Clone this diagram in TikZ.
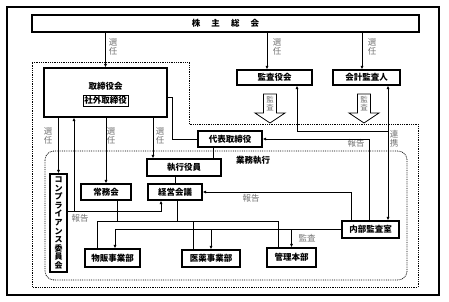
\documentclass[tikz,border=0pt]{standalone}
\usepackage{fontspec}
\setmainfont{Noto Sans CJK JP}
\usetikzlibrary{arrows.meta}

\begin{document}
\begin{tikzpicture}[
    x=1pt, y=-1pt,
    box/.style={
        rectangle,
        draw,
        line width=1.1pt,
        inner sep=0pt,
        align=center,
        font=\fontsize{8.5}{10}\selectfont\bfseries,
    },
    lbl/.style={text=black!55, inner sep=0pt, align=center, font=\fontsize{8.5}{9.5}\selectfont},
    region/.style={densely dotted, line width=0.8pt},
    >={Latex[length=3.5pt,width=3pt]}, line width=0.9pt
]
\useasboundingbox (0,0) rectangle (449,302);

% frame and regions
\draw[line width=1.2pt] (7,7) rectangle (439,295);
\draw[region] (32,62) -- (189,62) -- (189,124) -- (418,124) -- (418,287) -- (32,287) -- cycle;
\draw[region, rounded corners=9pt] (45,151) rectangle (407,280);

% boxes
\node[box, minimum width=387pt, minimum height=17pt] (kabu) at (225.5,23.5) {株\hspace{1.3em}主\hspace{1.3em}総\hspace{1.3em}会};
\node[box, minimum width=123pt, minimum height=49pt] (tori) at (105.5,92.5) {};
\node[font=\fontsize{8.5}{10}\selectfont\bfseries, inner sep=0pt] (toritxt) at (105.5,86) {取締役会};
\node[draw, line width=0.5pt, inner sep=1.2pt, font=\fontsize{8.5}{10}\selectfont\bfseries] (shagai) at (105.5,100.5) {社外取締役};
\node[box, minimum width=75pt, minimum height=15pt] (kansa) at (274.5,77.5) {監査役会};
\node[box, minimum width=67pt, minimum height=15pt] (kaikei) at (366.5,77.5) {会計監査人};
\node[box, minimum width=64pt, minimum height=16pt] (daihyo) at (230,139) {代表取締役};
\node[box, minimum width=74pt, minimum height=17pt] (shikko) at (184,167.5) {執行役員};
\node[box, minimum width=54pt, minimum height=16pt] (keiei) at (175,192) {経営会議};
\node[box, minimum width=50pt, minimum height=16pt] (jomu) at (106,192) {常務会};
\node[box, minimum width=17pt, minimum height=98pt, font=\fontsize{8}{8.6}\selectfont\bfseries] (comp) at (58.5,223) {コ\\ン\\プ\\ラ\\イ\\ア\\ン\\ス\\委\\員\\会};
\node[box, minimum width=57pt, minimum height=17pt] (naibu) at (370.5,229.5) {内部監査室};
\node[box, minimum width=55pt, minimum height=18pt] (buppan) at (112.5,258) {物販事業部};
\node[box, minimum width=58pt, minimum height=17pt] (iyaku) at (211,258.5) {医薬事業部};
\node[box, minimum width=49pt, minimum height=19pt] (kanri) at (291.5,257.5) {管理本部};
\node[font=\fontsize{8.5}{10}\selectfont\bfseries, inner sep=0pt] (gyomu) at (253,160) {業務執行};

% hollow arrows
\foreach \x/\n in {270/kya, 364/kyb} {
    \draw[line width=0.8pt] (\x-6.5,94) -- (\x+6.5,94) -- (\x+6.5,113) -- (\x+15,113) -- (\x,123)
        -- (\x-15,113) -- (\x-6.5,113) -- cycle;
    \node[lbl, font=\fontsize{7.5}{8}\selectfont] (\n) at (\x,103.5) {監\\査};
}

% labels
\node[lbl] (sena) at (113,47) {選\\任};
\node[lbl] (senb) at (277,47) {選\\任};
\node[lbl] (senc) at (372,47) {選\\任};
\node[lbl] (send) at (48,136) {選\\任};
\node[lbl] (sene) at (111,136) {選\\任};
\node[lbl] (senf) at (160,136) {選\\任};
\node[lbl] (renkei) at (394,139) {連\\携};
\node[lbl] (hoka) at (356,143) {報告};
\node[lbl] (hokb) at (251,198) {報告};
\node[lbl] (hokc) at (80,218) {報告};
\node[lbl] (kansac) at (307,238) {監査};

\coordinate (rep) at (74,211);
\coordinate (ren) at (388,131);
\coordinate (bus) at (0,221);

% connectors
\draw[->] (kabu.south -| tori) -- (tori.north);
\draw[->] ([xshift=-7.5pt]kansa.north |- kabu.south) -- ([xshift=-7.5pt]kansa.north);
\draw[->] ([xshift=-4.5pt]kaikei.north |- kabu.south) -- ([xshift=-4.5pt]kaikei.north);
\draw ([yshift=-4.5pt]tori.east) -- ++(5,0) |- (daihyo.west);
\draw[->] (tori.south -| comp) -- (comp.north);
\draw[->] (rep) -- (rep |- tori.south);
\draw[->] (comp.east |- rep) -| ([xshift=-14pt]keiei.south);
\draw[->] (tori.south -| jomu) -- (jomu.north);
\draw[->] ([xshift=-31pt]shikko.north |- tori.south) -- ([xshift=-31pt]shikko.north);
\draw ([xshift=-17pt]daihyo.south) -- ([xshift=-17pt]daihyo.south |- shikko.north);
\draw (shikko.south -| keiei) -- (keiei.north);
\draw[->] ([xshift=-19.5pt]naibu.north) |- (keiei.east);
\draw[->] ([xshift=-1.5pt]naibu.north) |- (daihyo.east);
\draw[<->] ([xshift=17.5pt]naibu.north) -- ([xshift=17.5pt]naibu.north |- kaikei.south);
\draw[->] (ren) -| ([xshift=22.5pt]kansa.south);
\draw ([xshift=2pt]keiei.south) -- ([xshift=2pt]keiei.south |- bus);
\draw ([xshift=11pt]jomu.south) -- ([xshift=11pt]jomu.south |- bus);
\draw ([xshift=-15.5pt]buppan.north) |- ([xshift=-13.5pt]kanri.north |- bus) -- ([xshift=-13.5pt]kanri.north);
\draw ([xshift=-18pt]iyaku.north |- bus) -- ([xshift=-18pt]iyaku.north);
\draw[->] (naibu.west) -| ([xshift=2.5pt]buppan.north);
\draw[->] (naibu.west -| iyaku) -- (iyaku.north);
\draw[->] (naibu.west -| kanri) -- (kanri.north);

\end{tikzpicture}
\end{document}
